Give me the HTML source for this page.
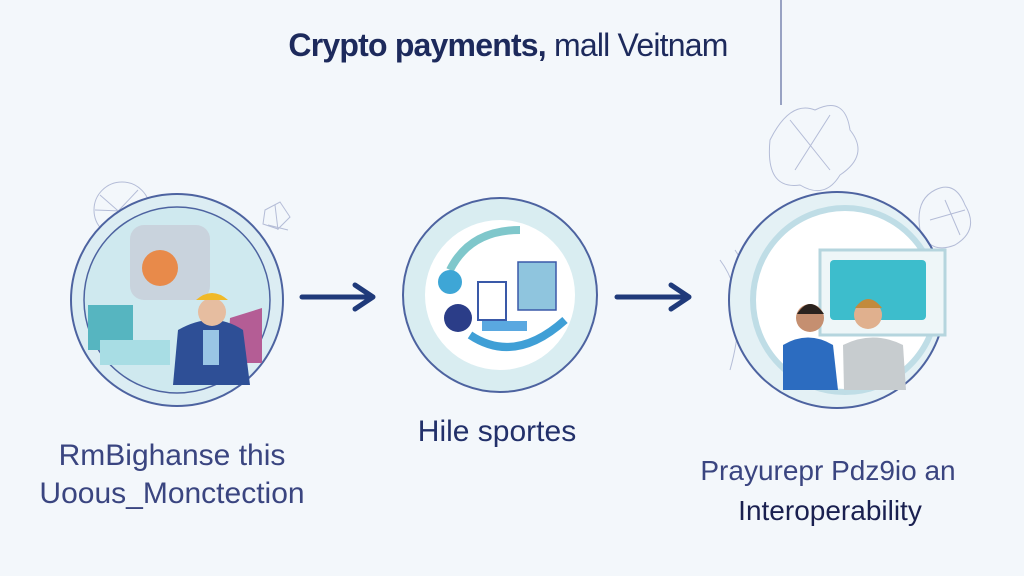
<!DOCTYPE html>
<html><head><meta charset="utf-8"><style>
body{margin:0;width:1024px;height:576px;background:#f3f7fb;overflow:hidden;position:relative;font-family:"Liberation Sans",sans-serif}
.t{position:absolute;white-space:nowrap;transform:translateX(-50%);color:#3a4580}
</style></head><body>
<svg width="1024" height="576" style="position:absolute;left:0;top:0">
<line x1="781" y1="0" x2="781" y2="105" stroke="#7a86b0" stroke-width="1.5"/>
<g fill="none" stroke="#9aa4c8" stroke-width="1" opacity="0.7">
<circle cx="122" cy="210" r="28"/><path d="M100 195 L140 230 M105 225 L138 190 M95 210 L150 212"/>
<path d="M265 210 l15 -8 l10 15 l-12 12 l-15 -5 z M268 225 l20 5 M275 205 l3 25"/>
<path d="M770 140 q20 -40 45 -30 q30 -15 35 20 q20 25 -10 45 q-15 25 -40 10 q-35 5 -30 -45z"/>
<path d="M790 120 l40 50 M830 115 l-35 55"/>
<path d="M935 190 q20 -10 30 15 q15 25 -10 40 q-25 10 -35 -15 q-5 -30 15 -40z"/>
<path d="M945 200 l15 35 M930 220 l35 -10"/>
<path d="M720 260 q30 40 10 110 M735 250 q40 60 20 120"/>
</g>
<circle cx="177" cy="300" r="106" fill="#dcedf3" stroke="#4d63a0" stroke-width="2"/>
<circle cx="177" cy="300" r="93" fill="#cfe9ef" stroke="#4d63a0" stroke-width="1.5"/>
<rect x="130" y="225" width="80" height="75" rx="14" fill="#c9d3dd"/>
<circle cx="160" cy="268" r="18" fill="#e88a4a"/>
<rect x="88" y="305" width="45" height="45" fill="#56b5c0"/>
<rect x="100" y="340" width="70" height="25" fill="#a8dde4"/>
<path d="M230 318 l32 -10 l0 55 l-35 0z" fill="#b45d95"/>
<path d="M178 330 q35 -20 65 0 l7 55 l-77 0z" fill="#2e4f96"/>
<circle cx="212" cy="312" r="14" fill="#e6bda0"/>
<path d="M196 300 q16 -14 32 0z" fill="#f0b928"/>
<rect x="203" y="330" width="16" height="35" fill="#9ac6e5"/>
<circle cx="500" cy="295" r="97" fill="#d9edf1" stroke="#4d63a0" stroke-width="2"/>
<circle cx="500" cy="295" r="75" fill="#ffffff"/>
<path d="M450 270 q20 -40 70 -40" fill="none" stroke="#7fc7cb" stroke-width="8"/>
<path d="M470 335 q45 30 95 -15" fill="none" stroke="#3f9fd6" stroke-width="8"/>
<circle cx="450" cy="282" r="12" fill="#3ea6d6"/>
<circle cx="458" cy="318" r="14" fill="#2b3d88"/>
<rect x="478" y="282" width="28" height="38" fill="#fff" stroke="#3a59a8" stroke-width="2"/>
<rect x="518" y="262" width="38" height="48" fill="#8fc5de" stroke="#3a59a8" stroke-width="1.5"/>
<rect x="482" y="321" width="45" height="10" fill="#5aa8e0"/>
<circle cx="837" cy="300" r="108" fill="#e4f1f5" stroke="#4d63a0" stroke-width="2"/>
<circle cx="845" cy="300" r="92" fill="#ffffff" stroke="#bfdde6" stroke-width="6"/>
<rect x="820" y="250" width="125" height="85" fill="#eef6f8" stroke="#b5d5de" stroke-width="3"/>
<rect x="830" y="260" width="96" height="60" rx="4" fill="#3dbdcc"/>
<path d="M783 345 q25 -15 50 0 l5 45 l-55 0z" fill="#2c6cc0"/>
<circle cx="810" cy="318" r="14" fill="#c58f70"/>
<path d="M797 314 q13 -20 27 0z" fill="#2a221e"/>
<path d="M843 345 q30 -15 60 0 l3 45 l-62 0z" fill="#c7cccf"/>
<circle cx="868" cy="315" r="14" fill="#e0b08e"/>
<path d="M855 308 q13 -18 27 0z" fill="#c28a3c"/>
<g stroke="#1f3a7a" stroke-width="5" fill="none" stroke-linecap="round" stroke-linejoin="round">
<line x1="302" y1="297" x2="372" y2="297"/><path d="M355 285 L373 297 L355 309"/>
<line x1="617" y1="297" x2="688" y2="297"/><path d="M671 285 L689 297 L671 309"/>
</g>
</svg>
<div class="t" style="left:508px;top:27px;font-size:32px;font-weight:bold;color:#1d2a5c;letter-spacing:-0.8px">Crypto payments, <span style="font-weight:normal">mall Veitnam</span></div>
<div class="t" style="left:172px;top:439px;font-size:30px">RmBighanse this</div>
<div class="t" style="left:172px;top:477px;font-size:30px">Uoous_Monctection</div>
<div class="t" style="left:497px;top:415px;font-size:30px;color:#22306a">Hile sportes</div>
<div class="t" style="left:828px;top:455px;font-size:28px">Prayurepr Pdz9io an</div>
<div class="t" style="left:830px;top:495px;font-size:28px;color:#1a2050">Interoperability</div>
</body></html>
